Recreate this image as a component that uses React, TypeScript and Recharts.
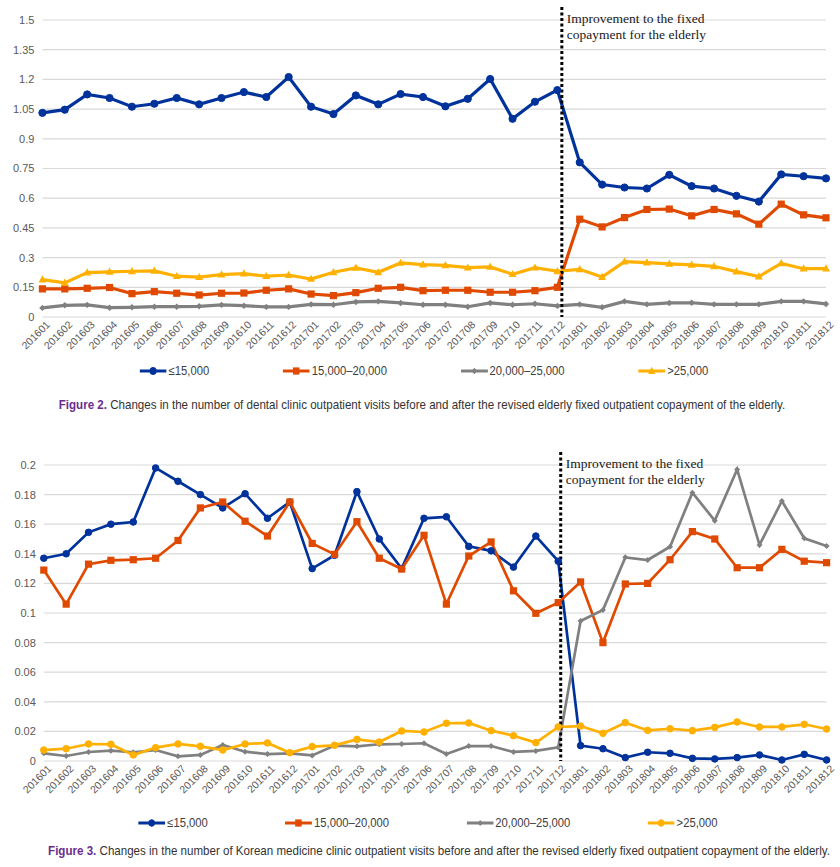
import React from 'react';
import { LineChart, Line, XAxis, YAxis, CartesianGrid, ReferenceLine } from 'recharts';

// months on the x axis (both figures)
const months = [
  '201601', '201602', '201603', '201604', '201605', '201606', '201607', '201608', '201609', '201610', '201611', '201612',
  '201701', '201702', '201703', '201704', '201705', '201706', '201707', '201708', '201709', '201710', '201711', '201712',
  '201801', '201802', '201803', '201804', '201805', '201806', '201807', '201808', '201809', '201810', '201811', '201812',
];

const seriesNames = ['≤15,000', '15,000–20,000', '20,000–25,000', '>25,000'];
const seriesColors = ['#00329b', '#e04a00', '#808080', '#ffb000'];

// Figure 2: dental clinic
const dentalLow = [
  1.031, 1.047, 1.124, 1.106, 1.062, 1.077, 1.106, 1.074, 1.106, 1.136, 1.111, 1.212,
  1.062, 1.025, 1.119, 1.074, 1.126, 1.111, 1.064, 1.102, 1.202, 1.001, 1.087, 1.146,
  0.781, 0.669, 0.654, 0.649, 0.718, 0.661, 0.649, 0.612, 0.583, 0.72, 0.711, 0.7,
];
const dentalMid = [
  0.142, 0.142, 0.145, 0.149, 0.118, 0.128, 0.12, 0.111, 0.12, 0.121, 0.135, 0.142,
  0.116, 0.108, 0.123, 0.145, 0.15, 0.133, 0.135, 0.135, 0.125, 0.125, 0.133, 0.15,
  0.494, 0.455, 0.502, 0.543, 0.545, 0.511, 0.543, 0.521, 0.469, 0.57, 0.516, 0.501,
];
const dentalHigh = [
  0.046, 0.059, 0.061, 0.047, 0.049, 0.052, 0.052, 0.054, 0.061, 0.057, 0.051, 0.051,
  0.064, 0.062, 0.076, 0.079, 0.071, 0.062, 0.062, 0.052, 0.071, 0.062, 0.067, 0.056,
  0.064, 0.049, 0.079, 0.064, 0.071, 0.072, 0.064, 0.064, 0.064, 0.079, 0.079, 0.066,
];
const dentalTop = [
  0.189, 0.172, 0.224, 0.228, 0.231, 0.233, 0.206, 0.201, 0.214, 0.219, 0.206, 0.212,
  0.192, 0.226, 0.248, 0.226, 0.273, 0.265, 0.261, 0.249, 0.253, 0.216, 0.249, 0.231,
  0.241, 0.202, 0.28, 0.275, 0.268, 0.263, 0.256, 0.229, 0.204, 0.271, 0.244, 0.244,
];
const dentalTicks = [0, 0.15, 0.3, 0.45, 0.6, 0.75, 0.9, 1.05, 1.2, 1.35, 1.5];

// Figure 3: Korean medicine clinic
const komedLow = [
  0.137, 0.14, 0.1545, 0.16, 0.1615, 0.198, 0.189, 0.18, 0.171, 0.1806, 0.164, 0.175,
  0.13, 0.139, 0.182, 0.15, 0.13, 0.164, 0.165, 0.145, 0.142, 0.131, 0.152, 0.135,
  0.0104, 0.0083, 0.0023, 0.0059, 0.0052, 0.0018, 0.0014, 0.0023, 0.0041, 0.0007, 0.0045, 0.0007,
];
const komedMid = [
  0.129, 0.106, 0.133, 0.1356, 0.136, 0.137, 0.149, 0.171, 0.175, 0.162, 0.152, 0.175,
  0.147, 0.1396, 0.1617, 0.137, 0.1297, 0.1525, 0.106, 0.1385, 0.148, 0.115, 0.0998, 0.107,
  0.121, 0.08, 0.1196, 0.12, 0.136, 0.155, 0.15, 0.1306, 0.1306, 0.143, 0.135, 0.134,
];
const komedHigh = [
  0.0052, 0.0034, 0.0061, 0.007, 0.0059, 0.0074, 0.0032, 0.0041, 0.0108, 0.0063, 0.0047, 0.0052,
  0.0038, 0.0104, 0.0099, 0.0113, 0.0115, 0.012, 0.0047, 0.0101, 0.0101, 0.0061, 0.0068, 0.0092,
  0.0946, 0.102, 0.1376, 0.1358, 0.1448, 0.1813, 0.1624, 0.197, 0.146, 0.1757, 0.1505, 0.1453,
];
const komedTop = [
  0.0074, 0.0083, 0.0115, 0.0113, 0.0041, 0.009, 0.0115, 0.0099, 0.0074, 0.0115, 0.0122, 0.0056,
  0.0097, 0.0106, 0.0146, 0.0128, 0.0203, 0.0196, 0.0255, 0.0257, 0.0205, 0.0171, 0.0124, 0.023,
  0.0236, 0.0187, 0.0259, 0.0207, 0.0218, 0.0205, 0.0227, 0.0264, 0.023, 0.023, 0.0248, 0.0216,
];
const komedTicks = [0, 0.02, 0.04, 0.06, 0.08, 0.1, 0.12, 0.14, 0.16, 0.18, 0.2];

const keys = ['low', 'mid', 'high', 'top'];

const buildRows = (a: number[], b: number[], c: number[], d: number[]) =>
  months.map((m, i) => ({ month: m, low: a[i], mid: b[i], high: c[i], top: d[i] }));

const dentalRows = buildRows(dentalLow, dentalMid, dentalHigh, dentalTop);
const komedRows = buildRows(komedLow, komedMid, komedHigh, komedTop);

const SANS = '"Liberation Sans", Arial, sans-serif';

const marker = (shape: string, color: string, s: number, cx: number, cy: number, key?: any) => {
  if (shape === 'circle') return <circle key={key} cx={cx} cy={cy} r={s} fill={color} stroke={color} />;
  if (shape === 'square')
    return <rect key={key} x={cx - s} y={cy - s} width={s * 2} height={s * 2} fill={color} />;
  if (shape === 'diamond')
    return (
      <polygon key={key} points={`${cx},${cy - s} ${cx + s},${cy} ${cx},${cy + s} ${cx - s},${cy}`} fill={color} />
    );
  return (
    <polygon
      key={key}
      points={`${cx},${cy - s * 1.2} ${cx + s * 1.1},${cy + s * 0.8} ${cx - s * 1.1},${cy + s * 0.8}`}
      fill={color}
    />
  );
};

const makeDot = (shape: string, color: string, s: number) => (p: any) => {
  if (p.cx == null || p.cy == null) return <g key={p.index} />;
  return marker(shape, color, s, p.cx, p.cy, `d-${p.index}`);
};

const XTick = (props: any) => {
  const { x, y, payload } = props;
  return (
    <g transform={`translate(${x + 3},${y - 5})`}>
      <text
        x={0}
        y={0}
        dy="0.71em"
        textAnchor="end"
        transform="rotate(-45)"
        fontSize={10.5}
        fill="#595959"
        fontFamily={SANS}
      >
        {payload.value}
      </text>
    </g>
  );
};

function Legend({ shapes, sizes, top, center, gap }: any) {
  return (
    <div
      style={{
        position: 'absolute',
        top,
        left: center - 420,
        width: 840,
        height: 18,
        display: 'flex',
        justifyContent: 'center',
        alignItems: 'center',
        gap,
        fontFamily: SANS,
        fontSize: 12.5,
        color: '#404040',
        transform: 'scaleX(0.9)',
        transformOrigin: '420px 9px',
      }}
    >
      {seriesNames.map((n, i) => (
        <div key={n} style={{ display: 'flex', alignItems: 'center' }}>
          <svg width={30} height={12} style={{ marginRight: 2 }}>
            <line x1={0} y1={6} x2={30} y2={6} stroke={seriesColors[i]} strokeWidth={3} />
            {marker(shapes[i], seriesColors[i], sizes[i], 15, 6)}
          </svg>
          <span>{n}</span>
        </div>
      ))}
    </div>
  );
}

function Caption({ top, center, num, text }: any) {
  return (
    <div
      style={{
        position: 'absolute',
        top,
        left: center - 450,
        width: 900,
        textAlign: 'center',
        fontFamily: SANS,
        fontSize: 13,
        lineHeight: '16px',
        color: '#333',
        whiteSpace: 'nowrap',
        transform: 'scaleX(0.89)',
        transformOrigin: '450px 8px',
      }}
    >
      <span style={{ color: '#6b2c91', fontWeight: 'bold' }}>{num}</span> {text}
    </div>
  );
}

function Trend({ rows, ticks, max, top, height, marginTop, yWidth, rightMargin, shapes, sizes, strokeWidth, lineShift, lineRise }: any) {
  const guide = (p: any) => {
    const yTop = Math.min(p.y1, p.y2) - lineRise;
    const yBottom = Math.max(p.y1, p.y2);
    const gx = p.x1 + lineShift;
    return (
      <g>
        <line x1={gx} x2={gx} y1={yTop} y2={yBottom} stroke="#000" strokeWidth={3} strokeDasharray="3 2.5" />
        <text
          y={yTop + 16}
          fontFamily='"Liberation Serif", "Times New Roman", serif'
          fontSize={13.5}
          fill="#1a1a1a"
        >
          <tspan x={gx + 5}>Improvement to the fixed</tspan>
          <tspan x={gx + 5} dy={16}>copayment for the elderly</tspan>
        </text>
      </g>
    );
  };
  return (
    <div style={{ position: 'absolute', top, left: 0 }}>
      <LineChart
        width={840}
        height={height}
        data={rows}
        margin={{ top: marginTop, right: rightMargin, left: 2, bottom: 0 }}
      >
        <CartesianGrid vertical={false} stroke="#d9d9d9" strokeWidth={1.2} />
        <XAxis
          dataKey="month"
          interval={0}
          height={48}
          axisLine={false}
          tickLine={false}
          tick={<XTick />}
        />
        <YAxis
          domain={[0, max]}
          ticks={ticks}
          width={yWidth}
          axisLine={false}
          tickLine={false}
          tick={{ fontSize: 11, fill: '#595959', fontFamily: SANS }}
        />
        {keys.map((k, i) => (
          <Line
            key={k}
            dataKey={k}
            name={seriesNames[i]}
            type="linear"
            stroke={seriesColors[i]}
            strokeWidth={strokeWidth}
            dot={makeDot(shapes[i], seriesColors[i], sizes[i])}
            activeDot={false}
            isAnimationActive={false}
          />
        ))}
        <ReferenceLine x="201712" ifOverflow="visible" shape={guide} />
      </LineChart>
    </div>
  );
}

export default function App() {
  const shapes1 = ['circle', 'square', 'diamond', 'triangle'];
  const sizes1 = [3.6, 3.6, 3.2, 3.6];
  const shapes2 = ['circle', 'square', 'diamond', 'circle'];
  const sizes2 = [3.3, 3.6, 3.0, 3.3];
  return (
    <div style={{ position: 'absolute', left: 0, top: 0, width: 840, height: 867, background: '#fff', overflow: 'hidden' }}>
      <Trend
        rows={dentalRows}
        ticks={dentalTicks}
        max={1.5}
        top={0}
        height={365}
        marginTop={20}
        yWidth={40.4}
        rightMargin={14}
        shapes={shapes1}
        sizes={sizes1}
        strokeWidth={3.2}
        lineShift={4.5}
        lineRise={13}
      />
      <Legend shapes={shapes1} sizes={sizes1} top={362} center={424} gap={82} />
      <Caption
        top={397}
        center={422}
        num="Figure 2."
        text="Changes in the number of dental clinic outpatient visits before and after the revised elderly fixed outpatient copayment of the elderly."
      />
      <Trend
        rows={komedRows}
        ticks={komedTicks}
        max={0.2}
        top={440}
        height={369}
        marginTop={25}
        yWidth={41.8}
        rightMargin={13.4}
        shapes={shapes2}
        sizes={sizes2}
        strokeWidth={2.7}
        lineShift={2.5}
        lineRise={13}
      />
      <Legend shapes={shapes2} sizes={sizes2} top={814} center={428} gap={86} />
      <Caption
        top={843}
        center={439}
        num="Figure 3."
        text="Changes in the number of Korean medicine clinic outpatient visits before and after the revised elderly fixed outpatient copayment of the elderly."
      />
    </div>
  );
}
